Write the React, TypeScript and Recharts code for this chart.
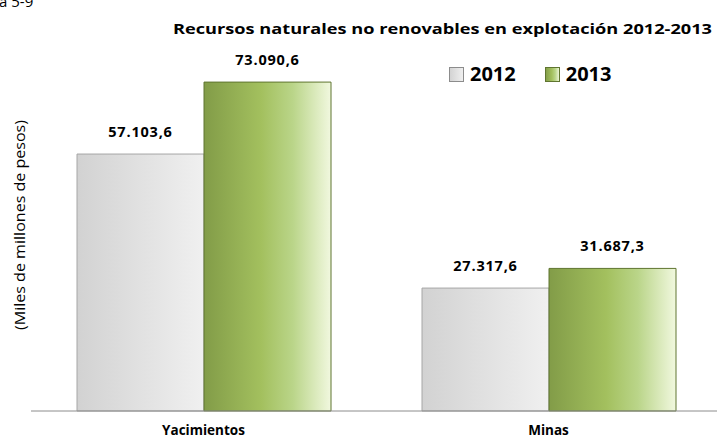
import React from 'react'
import { BarChart, Bar, XAxis, YAxis, Legend, LabelList } from 'recharts'

const categories = ['Yacimientos', 'Minas']
const values2012 = [57103.6, 27317.6]
const values2013 = [73090.6, 31687.3]
const seriesNames = ['2012', '2013']

const data = categories.map((name, i) => ({
    name,
    y2012: values2012[i],
    y2013: values2013[i],
}))

const FONT = '"Open Sans", "Noto Sans", sans-serif'

const fmt = (v: any) => {
    const [int, dec] = Number(v).toFixed(1).split('.')
    return int.replace(/\B(?=(\d{3})+(?!\d))/g, '.') + ',' + dec
}

const LegendContent = () => (
    <div style={{ display: 'flex', alignItems: 'center', fontFamily: FONT }}>
        {seriesNames.map((s, i) => (
            <div key={s} style={{ display: 'flex', alignItems: 'center', marginRight: i === 0 ? 29 : 0 }}>
                <svg width={15} height={15} style={{ marginRight: 6 }}>
                    <rect x={0.5} y={0.5} width={14} height={14} fill={i === 0 ? 'url(#gGray)' : 'url(#gGreen)'} stroke={i === 0 ? '#8c8c8c' : '#5f7530'} />
                </svg>
                <span style={{ fontSize: 20, fontWeight: 700, color: '#000', lineHeight: '20px' }}>{s}</span>
            </div>
        ))}
    </div>
)

export default function App() {
    return (
        <div style={{ position: 'absolute', top: 0, left: 0, width: 717, height: 441, overflow: 'hidden', background: '#fff' }}>
            <BarChart
                width={721}
                height={441}
                data={data}
                margin={{ top: 51, right: 0, bottom: 0, left: 31 }}
                barCategoryGap={46}
                barGap={0}
            >
                <defs>
                    <linearGradient id="gGray" x1="0" y1="0" x2="1" y2="0">
                        <stop offset="0%" stopColor="#d2d2d2" />
                        <stop offset="100%" stopColor="#f0f0f0" />
                    </linearGradient>
                    <linearGradient id="gGreen" x1="0" y1="0" x2="1" y2="0">
                        <stop offset="0%" stopColor="#829c48" />
                        <stop offset="45%" stopColor="#a3c05e" />
                        <stop offset="70%" stopColor="#bad589" />
                        <stop offset="100%" stopColor="#f1f8df" />
                    </linearGradient>
                </defs>
                <XAxis
                    dataKey="name"
                    tickLine={false}
                    axisLine={{ stroke: '#8c8c8c', strokeWidth: 1 }}
                    height={30}
                    tick={{ fontSize: 13.5, fontWeight: 700, fill: '#000', fontFamily: FONT, dy: 6 }}
                />
                <YAxis hide domain={[0, 80000]} />
                <Legend
                    layout="horizontal"
                    verticalAlign="middle"
                    align="center"
                    content={<LegendContent />}
                    wrapperStyle={{ position: 'absolute', top: 64, left: 449, width: 'auto' }}
                />
                <Bar dataKey="y2012" name="2012" fill="url(#gGray)" stroke="#a6a6a6" strokeWidth={1} isAnimationActive={false}>
                    <LabelList dataKey="y2012" position="top" offset={17} formatter={fmt}
                        style={{ fontSize: 14.5, fontWeight: 700, fill: '#000', fontFamily: FONT, letterSpacing: 0.8 }} />
                </Bar>
                <Bar dataKey="y2013" name="2013" fill="url(#gGreen)" stroke="#5f7530" strokeWidth={1} isAnimationActive={false}>
                    <LabelList dataKey="y2013" position="top" offset={17} formatter={fmt}
                        style={{ fontSize: 14.5, fontWeight: 700, fill: '#000', fontFamily: FONT, letterSpacing: 0.8 }} />
                </Bar>
            </BarChart>
            <svg width={717} height={441} style={{ position: 'absolute', top: 0, left: 0, pointerEvents: 'none' }}>
                <text x={-1} y={7} fontFamily={FONT} fontSize={15} fill="#000">a 5-9</text>
                <text x={173} y={34} fontFamily={FONT} fontSize={15} fontWeight={700} fill="#000"
                    textLength={539} lengthAdjust="spacingAndGlyphs">
                    Recursos naturales no renovables en explotación 2012-2013
                </text>
                <text x={21} y={225} transform="rotate(-90 21 225)" textAnchor="middle" dominantBaseline="middle"
                    fontFamily={FONT} fontSize={15} fill="#000" textLength={210} lengthAdjust="spacingAndGlyphs">
                    (Miles de millones de pesos)
                </text>
            </svg>
        </div>
    )
}
